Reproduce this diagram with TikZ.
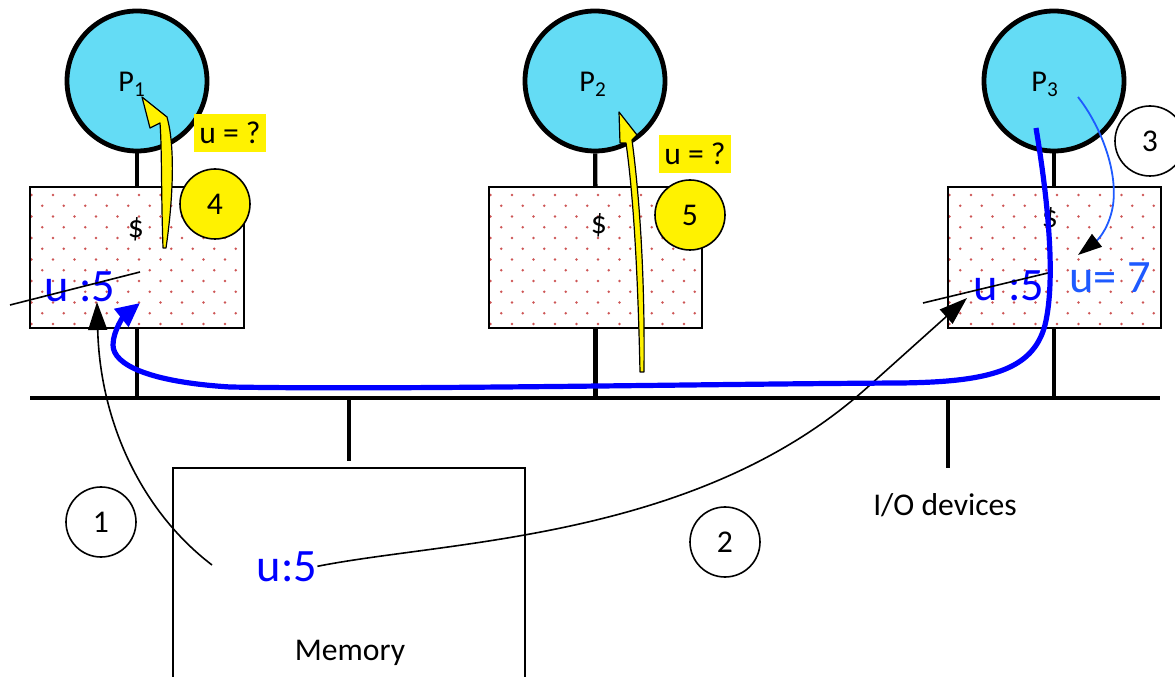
\documentclass[tikz,border=0pt]{standalone}
\usepackage{fontspec}
\setmainfont{Carlito}
\usetikzlibrary{arrows.meta}

\definecolor{proccyan}{RGB}{100,220,245}
\definecolor{dotred}{RGB}{205,85,85}
\definecolor{valblue}{RGB}{0,0,255}
\definecolor{newblue}{RGB}{30,90,255}

\begin{document}
\begin{tikzpicture}[x=0.25mm, y=-0.25mm,
    font=\fontsize{22.5}{27}\selectfont,
    proc/.style={circle, draw, line width=1.2mm, fill=proccyan, minimum size=35mm, inner sep=0},
    cache/.style={rectangle, draw, line width=0.5mm, minimum width=53.25mm, minimum height=35.25mm, inner sep=0},
    stub/.style={line width=1.1mm},
    stepnum/.style={circle, draw, line width=0.4mm, minimum size=17.5mm, inner sep=0},
    hotnum/.style={stepnum, fill=yellow},
    query/.style={fill=yellow, minimum width=18mm, minimum height=9.5mm, inner sep=0},
    plabel/.style={anchor=base, inner sep=0, font=\fontsize{21.5}{25}\selectfont},
    bigval/.style={anchor=base, inner sep=0, font=\fontsize{33}{40}\selectfont},
    yarrow/.style={fill=yellow, draw, line width=0.3mm, line join=round},
    flow/.style={line width=0.4mm, -{Triangle[length=7mm, width=4.75mm]}},
  ]
  \useasboundingbox (0,0) rectangle (1175,677);
  \clip (0,0) rectangle (1175,677);

  % dotted fill of the three caches
  \foreach \bx in {30,489,948} {
    \foreach \j [evaluate=\j as \off using {mod(\j,2)*10.75}] in {0,...,12} {
      \foreach \k in {0,...,9} {
        \fill[dotred] (\bx+1.5+\off+21.5*\k, 195+10.75*\j) circle (0.36mm);
      }
    }
  }

  % processors and caches
  \node[proc] (p1) at (137,81) {};
  \node[proc] (p2) at (595,81) {};
  \node[proc] (p3) at (1054,81) {};
  \node[plabel] (p1lbl) at (132,92) {P\textsubscript{1}};
  \node[plabel] (p2lbl) at (593,92) {P\textsubscript{2}};
  \node[plabel] (p3lbl) at (1045,92) {P\textsubscript{3}};
  \node[cache] (c1) at (137,257.5) {};
  \node[cache] (c2) at (595.5,257.5) {};
  \node[cache] (c3) at (1054,257.5) {};
  \node (d1) at (136,229) {\$};
  \node (d2) at (599,225) {\$};
  \node (d3) at (1050,219) {\$};

  % bus
  \coordinate (busL) at (30,398);
  \coordinate (busR) at (1160,398);
  \draw[line width=1.2mm] (busL) -- (busR);
  \foreach \n in {1,2,3} {
    \draw[stub] (p\n) -- (c\n);
    \draw[stub] (c\n.south) -- (c\n.south |- busL);
  }

  % memory and i/o
  \node[draw, line width=0.5mm, minimum width=88mm, minimum height=65mm, inner sep=0] (mem) at (349,598) {};
  \node[anchor=base] (memlbl) at (350,660) {Memory};
  \draw[stub, shorten >=1.5mm] (mem.north |- busL) -- (mem.north);
  \coordinate (iotop) at (948,468);
  \draw[stub] (iotop |- busL) -- (iotop);
  \node[anchor=base] (io) at (945,515) {I/O devices};

  % values of u
  \node[bigval, valblue] (u1) at (80,302) {u :5};
  \node[bigval, valblue] (u3) at (1009,301) {u :5};
  \node[bigval, newblue] (u7) at (1110,293) {u= 7};
  \node[bigval, valblue] (um) at (287,581) {u:5};
  \draw[line width=0.4mm] (10,305) -- (140,272);
  \draw[line width=0.4mm] (923,303) -- (1052,272);

  % reads by P1 and P2
  \filldraw[yarrow] (163,248) .. controls (161,190) and (162,150) .. (160,123) -- (150,128)
    -- (142,97) -- (167,117) -- (168,121) .. controls (175,150) and (173,200) .. (166,248) -- cycle;
  \filldraw[yarrow] (640,372) .. controls (638,280) and (634,200) .. (626,143) -- (620,143)
    -- (619,112) -- (637,135) -- (632,140) .. controls (640,200) and (645,280) .. (644,372) -- cycle;
  \node[query] (q1) at (230,133) {u = ?};
  \node[query] (q2) at (695,154) {u = ?};

  % step numbers
  \node[stepnum] (s1) at (101,522) {1};
  \node[stepnum] (s2) at (725,542) {2};
  \node[stepnum] (s3) at (1150,141) {3};
  \node[hotnum] (s4) at (215,204) {4};
  \node[hotnum] (s5) at (690,215) {5};

  % transfers
  \coordinate (a1from) at (212,565);
  \coordinate (a1to) at (97,302);
  \coordinate (a2to) at (967,298);
  \coordinate (a3from) at (1078,97);
  \coordinate (a3to) at (1078,255);
  \coordinate (b0) at (1036,128);
  \coordinate (b1) at (140,303);
  \draw[flow] (a1from) .. controls (140,510) and (100,420) .. (a1to);
  \draw[flow] (um.east) .. controls (450,540) and (700,540) .. (870,385) -- (a2to);
  \draw[line width=0.45mm, newblue, -{Triangle[length=6mm, width=4mm, color=black]}]
    (a3from) .. controls (1100,125) and (1118,170) .. (1113,205)
    .. controls (1110,225) and (1100,238) .. (a3to);
  \draw[line width=1.3mm, valblue, -{Triangle[length=6mm, width=5.5mm]}]
    (b0) .. controls (1048,200) and (1056,280) .. (1045,325)
    .. controls (1033,370) and (990,382) .. (900,383)
    .. controls (700,384) and (400,390) .. (230,387)
    .. controls (150,382) and (113,365) .. (113,345)
    .. controls (113,330) and (125,315) .. (b1);
\end{tikzpicture}
\end{document}
